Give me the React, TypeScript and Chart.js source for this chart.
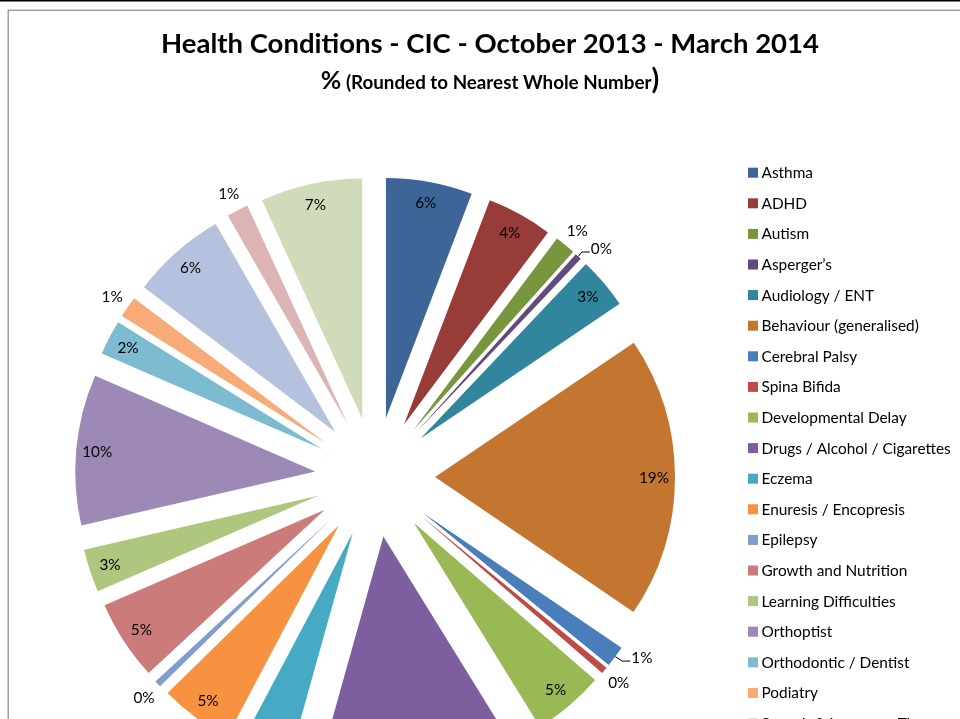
import React, { useEffect, useRef } from 'react';
import { Chart, registerables } from 'chart.js';

Chart.register(...registerables);

// ---- data ----
const categories: string[] = [
  'Asthma',
  'ADHD',
  'Autism',
  'Asperger\u2019s',
  'Audiology / ENT',
  'Behaviour (generalised)',
  'Cerebral Palsy',
  'Spina Bifida',
  'Developmental Delay',
  'Drugs / Alcohol / Cigarettes',
  'Eczema',
  'Enuresis / Encopresis',
  'Epilepsy',
  'Growth and Nutrition',
  'Learning Difficulties',
  'Orthoptist',
  'Orthodontic / Dentist',
  'Podiatry',
  'Speech & Language Therapy',
  'Physiotherapy',
  'Other',
];

// percentage share of each condition (unrounded)
const shares: number[] = [
  5.8, 4.4, 1.39, 0.45, 3.45, 18.9, 1.42, 0.45, 4.8, 13.1, 3.4, 4.9, 0.44, 5.36,
  2.9, 10.1, 2.33, 1.44, 6.36, 1.45, 6.83,
];

const sliceColors: string[] = [
  '#3D6597', '#983C3A', '#78963E', '#62497E', '#31869D', '#C4752F',
  '#4A7EBB', '#BE4B48', '#98B954', '#7D5FA0', '#46AAC5', '#F69240',
  '#7F9ECF', '#CB7B7A', '#AEC67E', '#9C89B6', '#7CBBD0', '#F8AA77',
  '#B4C2DD', '#DCB4B3', '#CFDBB9',
];

const titleText = 'Health Conditions - CIC - October 2013 - March 2014';
const subtitleParts: string[] = ['%', ' (Rounded to Nearest Whole Number', ')'];

// ---- layout / style ----
const W = 960;
const H = 719;
const FONT = 'Lato, "Open Sans", sans-serif';
const EXPLODE = 60;
const PIE_RADIUS = 240;
const LABEL_SIZE = 15.3;
const LEGEND_SIZE = 15.4;
const LABEL_NUDGE: Record<number, { dAngle: number; dR: number }> = {
  3: { dAngle: 2.45, dR: 22 },
  6: { dAngle: -3.4, dR: 22 },
};

const explodePlugin = {
  id: 'explodeArcs',
  beforeDatasetDraw(chart: any, args: any) {
    const ctx = chart.ctx;
    args.meta.data.forEach((arc: any) => {
      const mid = (arc.startAngle + arc.endAngle) / 2;
      ctx.save();
      ctx.translate(Math.cos(mid) * EXPLODE, Math.sin(mid) * EXPLODE);
      arc.draw(ctx);
      ctx.restore();
    });
    return false;
  },
};

const labelPlugin = {
  id: 'sliceLabels',
  afterDatasetsDraw(chart: any) {
    const ctx = chart.ctx;
    const meta = chart.getDatasetMeta(0);
    const values: number[] = chart.data.datasets[0].data;
    const total = values.reduce((a, b) => a + b, 0);
    ctx.save();
    ctx.font = `${LABEL_SIZE}px ${FONT}`;
    ctx.fillStyle = '#000';
    ctx.strokeStyle = '#000';
    ctx.lineWidth = 1;
    ctx.textAlign = 'center';
    ctx.textBaseline = 'alphabetic';
    meta.data.forEach((arc: any, i: number) => {
      const text = `${Math.round((values[i] / total) * 100)}%`;
      const mid = (arc.startAngle + arc.endAngle) / 2;
      const ex = arc.x + Math.cos(mid) * EXPLODE;
      const ey = arc.y + Math.sin(mid) * EXPLODE;
      const R = arc.outerRadius;
      const span = arc.endAngle - arc.startAngle;
      const w = ctx.measureText(text).width;
      const inside = span * (R - 21) > w + 8;
      let ang = mid;
      let r = inside ? R - 21 : R + 19;
      const nudge = LABEL_NUDGE[i];
      if (nudge) {
        ang = mid + (nudge.dAngle * Math.PI) / 180;
        r = R + nudge.dR;
      }
      const lx = ex + Math.cos(ang) * r;
      const ly = ey + Math.sin(ang) * r;
      ctx.fillText(text, lx, ly + LABEL_SIZE * 0.36);
      if (nudge) {
        const tipX = ex + Math.cos(mid) * R;
        const tipY = ey + Math.sin(mid) * R;
        const left = lx - w / 2 - 1;
        const hy = ly + 4;
        ctx.beginPath();
        ctx.moveTo(tipX, tipY);
        ctx.lineTo(left - 8, hy);
        ctx.lineTo(left, hy);
        ctx.stroke();
      }
    });
    ctx.restore();
  },
};

const decorPlugin = {
  id: 'decor',
  beforeDraw(chart: any) {
    const ctx = chart.ctx;
    ctx.save();
    ctx.fillStyle = '#fff';
    ctx.fillRect(0, 0, W, H);
    ctx.fillStyle = '#000';
    ctx.fillRect(0, 0, W, 1.5);
    ctx.strokeStyle = '#A0A0A0';
    ctx.lineWidth = 1.5;
    ctx.strokeRect(8.25, 10.25, W + 20, H + 20);
    ctx.restore();
  },
  afterDraw(chart: any) {
    const ctx = chart.ctx;
    ctx.save();
    ctx.fillStyle = '#000';
    // title
    ctx.font = `bold 27.5px ${FONT}`;
    ctx.textAlign = 'center';
    ctx.textBaseline = 'alphabetic';
    ctx.fillText(titleText, 490, 52.5);
    // subtitle with mixed sizes
    const fonts = [`bold 25px ${FONT}`, `bold 18.8px ${FONT}`, `bold 28px ${FONT}`];
    const widths = subtitleParts.map((p, i) => {
      ctx.font = fonts[i];
      return ctx.measureText(p).width;
    });
    let x = 490 - widths.reduce((a, b) => a + b, 0) / 2;
    ctx.textAlign = 'left';
    subtitleParts.forEach((p, i) => {
      ctx.font = fonts[i];
      ctx.fillText(p, x, 88.5);
      x += widths[i];
    });
    // legend
    const labels: string[] = chart.data.labels;
    const colors: string[] = chart.data.datasets[0].backgroundColor;
    ctx.font = `${LEGEND_SIZE}px ${FONT}`;
    labels.forEach((lab, i) => {
      const cy = 172.7 + i * 30.6;
      ctx.fillStyle = colors[i];
      ctx.fillRect(748, cy - 5, 10, 10);
      ctx.fillStyle = '#000';
      ctx.fillText(lab, 761.5, cy + LEGEND_SIZE * 0.36);
    });
    ctx.restore();
  },
};

export default function App() {
  const ref = useRef<HTMLCanvasElement | null>(null);
  useEffect(() => {
    if (!ref.current) return;
    const chart = new Chart(ref.current, {
      type: 'pie',
      data: {
        labels: categories,
        datasets: [
          {
            data: shares,
            backgroundColor: sliceColors,
            borderWidth: 0,
            clip: false as any,
          },
        ],
      },
      options: {
        responsive: false,
        animation: false,
        devicePixelRatio: 1,
        radius: PIE_RADIUS,
        layout: { padding: { left: 0, right: W - 750, top: 235, bottom: 0 } },
        plugins: {
          legend: { display: false },
          title: { display: false },
          tooltip: { enabled: false },
        },
        events: [],
      } as any,
      plugins: [decorPlugin, explodePlugin, labelPlugin],
    });
    return () => chart.destroy();
  }, []);
  return (
    <div style={{ position: 'fixed', left: 0, top: 0, width: W, height: H, background: '#fff' }}>
      <canvas ref={ref} width={W} height={H} />
    </div>
  );
}
